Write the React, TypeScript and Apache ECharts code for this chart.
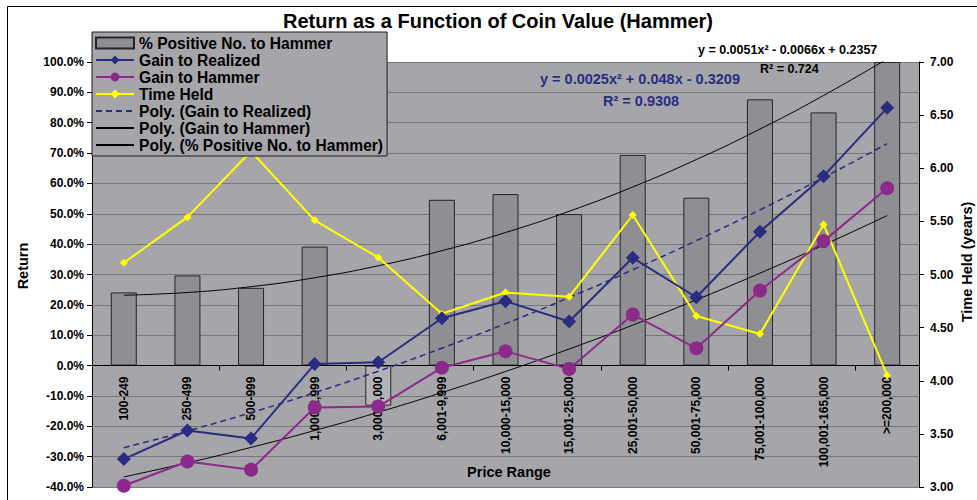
import React, { useEffect, useRef } from 'react';
import * as echarts from 'echarts';

const FONT = '"Liberation Sans", Arial, Helvetica, sans-serif';

const categories = [
  '100-249', '250-499', '500-999', '1,000-2,999', '3,000-6,000', '6,001-9,999',
  '10,000-15,000', '15,001-25,000', '25,001-50,000', '50,001-75,000',
  '75,001-100,000', '100,001-165,000', '>=200,000',
];
// percent values (left axis)
const pctPositive = [24.1, 29.7, 25.6, 39.2, -13.2, 54.6, 56.5, 49.9, 69.4, 55.3, 87.7, 83.4, 100];
const gainRealized = [-30.8, -21.4, -24.0, 0.5, 1.1, 15.6, 21.2, 14.5, 35.5, 22.5, 44.1, 62.4, 84.9];
const gainHammer = [-39.6, -31.6, -34.3, -13.8, -13.5, -0.7, 4.7, -1.1, 16.8, 5.7, 24.7, 41.0, 58.4];
// years (right axis)
const timeHeld = [5.11, 5.54, 6.16, 5.51, 5.16, 4.63, 4.83, 4.79, 5.56, 4.61, 4.44, 5.47, 4.05];

const returnTicks = { min: -40, max: 100, interval: 10 };
const timeTicks = { min: 3, max: 7, interval: 0.5 };

const eqPositive = 'y = 0.0051x² - 0.0066x + 0.2357';
const r2Positive = 'R² = 0.724';
const eqRealized = 'y = 0.0025x² + 0.048x - 0.3209';
const r2Realized = 'R² = 0.9308';

// Excel-style 2nd order polynomial trendline (least squares over x = 1..n)
function quadTrend(ys: number[]): number[] {
  let s0 = 0, s1 = 0, s2 = 0, s3 = 0, s4 = 0, t0 = 0, t1 = 0, t2 = 0;
  ys.forEach((y, i) => {
    const x = i + 1;
    s0 += 1; s1 += x; s2 += x * x; s3 += x ** 3; s4 += x ** 4;
    t0 += y; t1 += x * y; t2 += x * x * y;
  });
  const det = (m: number[][]) =>
    m[0][0] * (m[1][1] * m[2][2] - m[1][2] * m[2][1]) -
    m[0][1] * (m[1][0] * m[2][2] - m[1][2] * m[2][0]) +
    m[0][2] * (m[1][0] * m[2][1] - m[1][1] * m[2][0]);
  const A = [[s4, s3, s2], [s3, s2, s1], [s2, s1, s0]];
  const B = [t2, t1, t0];
  const D = det(A);
  const col = (k: number) => A.map((row, r) => row.map((v, c) => (c === k ? B[r] : v)));
  const a = det(col(0)) / D, b = det(col(1)) / D, c = det(col(2)) / D;
  return ys.map((_, i) => { const x = i + 1; return a * x * x + b * x + c; });
}

const NAVY = '#2A2C80';
const PURPLE = '#8C2A8C';
const YELLOW = '#FFFF00';
const PLOT_BG = '#A6A6AA';

const GRID = { left: 92, right: 58, top: 62, bottom: 13 };
const CHART_H = 500;

export default function App() {
  const ref = useRef<HTMLDivElement>(null);
  useEffect(() => {
    if (!ref.current) return;
    const chart = echarts.init(ref.current, undefined, { renderer: 'svg' });
    const labelStyle = { fontSize: 12, fontWeight: 'bold' as const, color: '#000', fontFamily: FONT };
    const plotH = CHART_H - GRID.top - GRID.bottom;
    // distance from the plot bottom up to the zero line of the Return axis
    const zeroOffset = -((0 - returnTicks.min) / (returnTicks.max - returnTicks.min)) * plotH;
    const hideIcon = { color: 'rgba(0,0,0,0)', borderColor: 'rgba(0,0,0,0)', opacity: 0 };
    const option: any = {
      animation: false,
      textStyle: { fontFamily: FONT },
      grid: {
        ...GRID, show: true, outerBoundsMode: 'none', containLabel: false,
        backgroundColor: PLOT_BG, borderWidth: 0,
      },
      legend: {
        orient: 'vertical', left: 92, top: 32,
        itemWidth: 38, itemHeight: 11, itemGap: 1,
        padding: [3, 4, 3, 3],
        backgroundColor: PLOT_BG, borderColor: '#1A1A1A', borderWidth: 1, borderRadius: 0,
        selectedMode: false, z: 20,
        textStyle: { fontSize: 15.6, fontWeight: 'bold', color: '#000', lineHeight: 15, fontFamily: FONT },
        data: [
          { name: '% Positive No. to Hammer', icon: 'rect', itemHeight: 8 },
          'Gain to Realized', 'Gain to Hammer', 'Time Held',
          { name: 'Poly. (Gain to Realized)', itemStyle: hideIcon },
          { name: 'Poly. (Gain to Hammer)', itemStyle: hideIcon },
          { name: 'Poly. (% Positive No. to Hammer)', itemStyle: hideIcon },
        ],
      },
      xAxis: [
        {
          type: 'category', data: categories, z: 2,
          axisLine: { onZero: true, onZeroAxisIndex: 0, lineStyle: { color: '#000', width: 1 } },
          axisTick: { show: true, length: 5, lineStyle: { color: '#000' } },
          axisLabel: { show: false },
          splitLine: { show: false },
        },
        {
          type: 'category', data: categories, z: 2, position: 'bottom', offset: zeroOffset,
          axisLine: { show: false, onZero: false },
          axisTick: { show: false },
          axisLabel: { ...labelStyle, rotate: 90, margin: 11, interval: 0 },
          splitLine: { show: false },
        },
      ],
      yAxis: [
        {
          type: 'value', position: 'left', ...returnTicks,
          axisLine: { show: true, lineStyle: { color: '#000' } },
          axisTick: { show: true, length: 5, lineStyle: { color: '#000' } },
          axisLabel: { ...labelStyle, margin: 8, formatter: (v: number) => v.toFixed(1) + '%' },
          splitLine: { show: true, lineStyle: { color: '#77777A', width: 1 } },
        },
        {
          type: 'value', position: 'right', ...timeTicks,
          axisLine: { show: true, lineStyle: { color: '#000' } },
          axisTick: { show: true, length: 5, lineStyle: { color: '#000' } },
          axisLabel: { ...labelStyle, margin: 11, formatter: (v: number) => v.toFixed(2) },
          splitLine: { show: false },
        },
      ],
      series: [
        {
          name: '% Positive No. to Hammer', type: 'bar', z: 1, barWidth: 26,
          data: pctPositive.map((v) => (v < 0 ? { value: v, itemStyle: { color: '#B3B3B7' } } : v)),
          itemStyle: { color: '#8F8F93', borderColor: '#262626', borderWidth: 1 },
        },
        {
          name: 'Poly. (Gain to Realized)', type: 'line', z: 3, smooth: true, symbol: 'none',
          data: quadTrend(gainRealized),
          lineStyle: { color: NAVY, width: 1.5, type: [6, 4] }, itemStyle: { color: NAVY },
        },
        {
          name: 'Poly. (Gain to Hammer)', type: 'line', z: 3, smooth: true, symbol: 'none',
          data: quadTrend(gainHammer),
          lineStyle: { color: '#000', width: 1 }, itemStyle: { color: '#000' },
        },
        {
          name: 'Poly. (% Positive No. to Hammer)', type: 'line', z: 3, smooth: true, symbol: 'none',
          data: quadTrend(pctPositive),
          lineStyle: { color: '#000', width: 1 }, itemStyle: { color: '#000' },
        },
        {
          name: 'Time Held', type: 'line', z: 4, yAxisIndex: 1, data: timeHeld,
          symbol: 'diamond', symbolSize: 8,
          lineStyle: { color: YELLOW, width: 2 }, itemStyle: { color: YELLOW },
        },
        {
          name: 'Gain to Hammer', type: 'line', z: 5, data: gainHammer, clip: false,
          symbol: 'circle', symbolSize: 14,
          lineStyle: { color: PURPLE, width: 2 }, itemStyle: { color: PURPLE },
        },
        {
          name: 'Gain to Realized', type: 'line', z: 6, data: gainRealized,
          symbol: 'diamond', symbolSize: 14,
          lineStyle: { color: NAVY, width: 2 }, itemStyle: { color: NAVY },
        },
      ],
      graphic: [
        {
          type: 'rect', silent: true, z: -1,
          shape: { x: 7.5, y: 6.5, width: 1000, height: 1000 },
          style: { fill: 'none', stroke: '#000', lineWidth: 1 },
        },
        {
          type: 'text', x: 498, y: 21, z: 30,
          style: { text: 'Return as a Function of Coin Value (Hammer)', font: `bold 20px ${FONT}`, fill: '#000', textAlign: 'center', textVerticalAlign: 'middle' },
        },
        {
          type: 'text', x: 698, y: 50, z: 30,
          style: { text: eqPositive, font: `bold 12.5px ${FONT}`, fill: '#000', textAlign: 'left', textVerticalAlign: 'middle' },
        },
        {
          type: 'text', x: 760, y: 69, z: 30,
          style: { text: r2Positive, font: `bold 12.5px ${FONT}`, fill: '#000', textAlign: 'left', textVerticalAlign: 'middle' },
        },
        {
          type: 'text', x: 540, y: 79, z: 30,
          style: { text: eqRealized, font: `bold 14.5px ${FONT}`, fill: NAVY, textAlign: 'left', textVerticalAlign: 'middle' },
        },
        {
          type: 'text', x: 603, y: 101, z: 30,
          style: { text: r2Realized, font: `bold 14.5px ${FONT}`, fill: NAVY, textAlign: 'left', textVerticalAlign: 'middle' },
        },
        {
          type: 'text', x: 509, y: 472, z: 30,
          style: { text: 'Price Range', font: `bold 14.5px ${FONT}`, fill: '#000', textAlign: 'center', textVerticalAlign: 'middle' },
        },
        {
          type: 'text', x: 23, y: 266, z: 30, rotation: Math.PI / 2,
          style: { text: 'Return', font: `bold 14.5px ${FONT}`, fill: '#000', textAlign: 'center', textVerticalAlign: 'middle' },
        },
        {
          type: 'text', x: 967, y: 262, z: 30, rotation: Math.PI / 2,
          style: { text: 'Time Held (years)', font: `bold 14.5px ${FONT}`, fill: '#000', textAlign: 'center', textVerticalAlign: 'middle' },
        },
      ],
    };
    chart.setOption(option);
    return () => chart.dispose();
  }, []);
  return (
    <div
      ref={ref}
      style={{ position: 'fixed', left: 0, top: 0, width: 977, height: CHART_H, background: '#fff' }}
    />
  );
}
